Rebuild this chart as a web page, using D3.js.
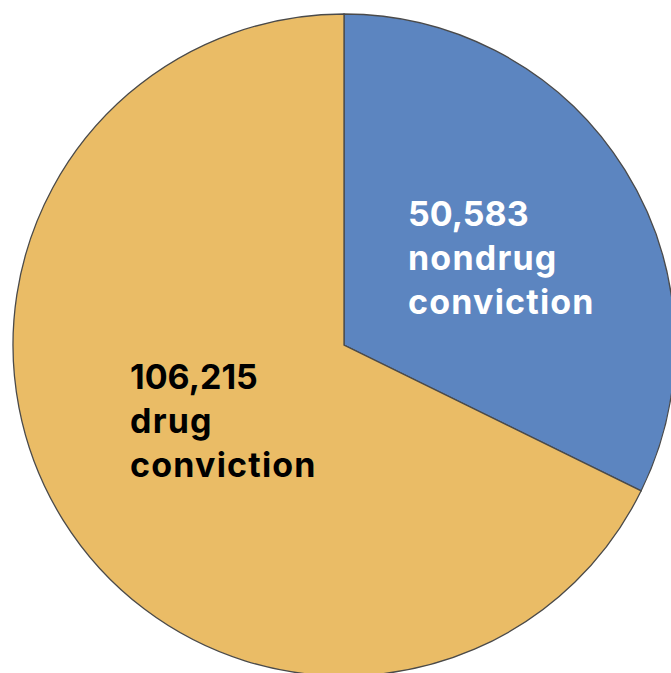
<!DOCTYPE html>
<html>
<head>
<meta charset="utf-8">
<script src="https://cdn.jsdelivr.net/npm/d3@7"></script>
<style>
  html, body { margin: 0; padding: 0; background: #fff; }
  svg { display: block; }
</style>
</head>
<body>
<svg id="chart" width="671" height="673"></svg>
<script>
// Convictions split into nondrug and drug
const categories = ["nondrug conviction", "drug conviction"];
const values = [50583, 106215];
const valueLabels = ["50,583", "106,215"];
const labelLines = [["nondrug", "conviction"], ["drug", "conviction"]];
const colors = ["#5c85c0", "#eabc66"];
const textColors = ["#ffffff", "#000000"];

const svg = d3.select("#chart");
const cx = 344, cy = 345, radius = 331;

const pie = d3.pie().sort(null).value(d => d.value);
const arc = d3.arc().innerRadius(0).outerRadius(radius);

const data = categories.map((c, i) => ({ name: c, value: values[i], i }));
const arcs = pie(data);

const g = svg.append("g").attr("transform", `translate(${cx},${cy})`);

g.selectAll("path")
  .data(arcs)
  .join("path")
  .attr("d", arc)
  .attr("fill", d => colors[d.data.i])
  .attr("stroke", "#4a4a4a")
  .attr("stroke-width", 1.3);

// Label anchors, relative to the pie centre
const labelPos = [[64, -119], [-214, 44]];
const lineGap = 44;

arcs.forEach(d => {
  const i = d.data.i;
  const t = g.append("text")
    .attr("x", labelPos[i][0])
    .attr("y", labelPos[i][1])
    .attr("fill", textColors[i])
    .attr("font-family", "Inter, 'Noto Sans', sans-serif")
    .attr("font-weight", 700)
    .attr("font-size", 34);
  [valueLabels[i], ...labelLines[i]].forEach((s, k) => {
    t.append("tspan")
      .attr("x", labelPos[i][0])
      .attr("dy", k === 0 ? 0 : lineGap)
      .style("letter-spacing", k === 0 ? "0px" : "1.2px")
      .text(s);
  });
});
</script>
</body>
</html>
